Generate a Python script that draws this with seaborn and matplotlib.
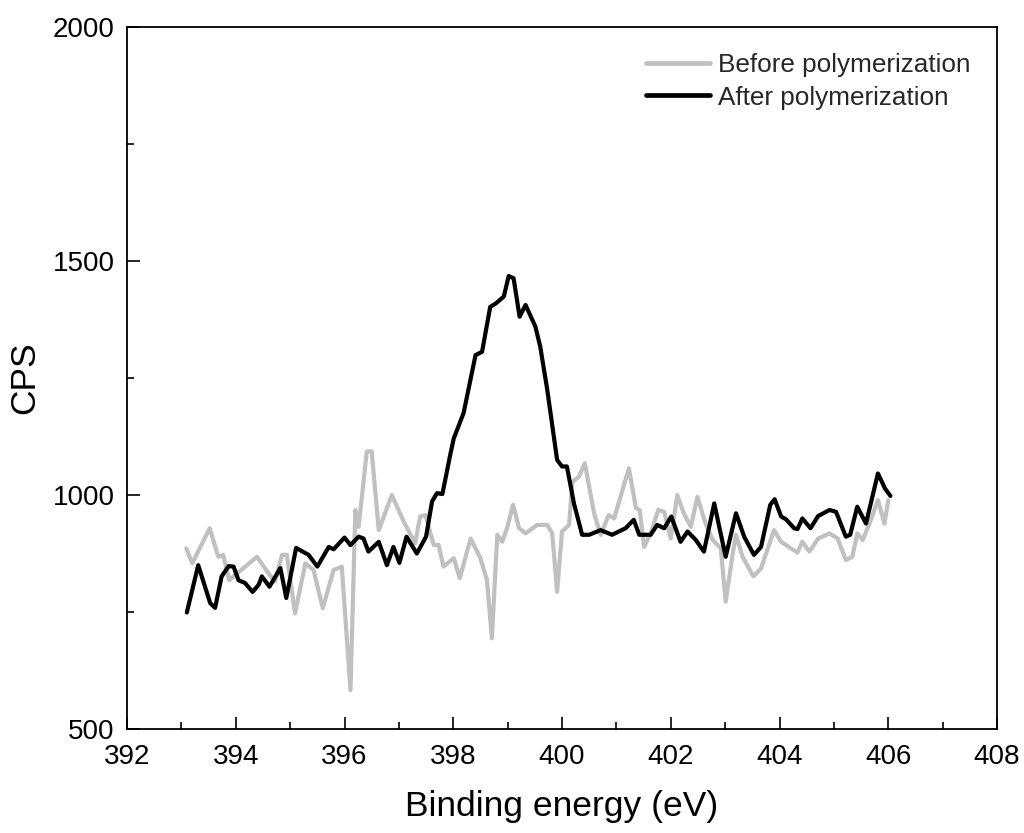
import numpy as np
import pandas as pd
import matplotlib
matplotlib.use("Agg")
import matplotlib.pyplot as plt
import seaborn as sns
from matplotlib.ticker import MultipleLocator

# ---- data ----
before_x = [393.09, 393.20, 393.52, 393.68, 393.77, 393.88, 394.00, 394.39, 394.60, 394.72,
            394.85, 394.94, 395.09, 395.28, 395.43, 395.60, 395.80, 395.95, 396.11, 396.20,
            396.26, 396.41, 396.50, 396.63, 396.87, 397.09, 397.30, 397.39, 397.49, 397.64,
            397.73, 397.82, 398.01, 398.12, 398.32, 398.50, 398.62, 398.71, 398.81, 398.90,
            398.99, 399.10, 399.21, 399.33, 399.54, 399.73, 399.82, 399.91, 400.00, 400.13,
            400.19, 400.31, 400.42, 400.59, 400.71, 400.86, 400.96, 401.23, 401.36, 401.43,
            401.51, 401.63, 401.77, 401.88, 402.00, 402.12, 402.24, 402.37, 402.49, 402.64,
            402.77, 402.92, 403.01, 403.14, 403.20, 403.32, 403.52, 403.66, 403.90, 404.03,
            404.21, 404.33, 404.42, 404.55, 404.71, 404.92, 405.07, 405.22, 405.34, 405.43,
            405.53, 405.68, 405.81, 405.93, 406.00]
before_y = [886, 854, 929, 868, 872, 818, 830, 868, 833, 815,
            872, 872, 747, 854, 840, 758, 840, 847, 583, 968,
            932, 1093, 1093, 925, 1000, 943, 897, 954, 957, 893,
            893, 847, 865, 822, 907, 865, 818, 694, 915, 900,
            929, 979, 929, 918, 936, 936, 918, 793, 922, 936,
            1028, 1039, 1068, 961, 915, 957, 950, 1057, 972, 968,
            889, 918, 968, 964, 907, 1000, 961, 932, 996, 939,
            904, 886, 772, 875, 915, 868, 826, 843, 925, 900,
            886, 877, 900, 879, 907, 918, 907, 861, 868, 918,
            904, 947, 989, 939, 989]

after_x = [393.10, 393.31, 393.53, 393.62, 393.74, 393.87, 393.96, 394.05, 394.17, 394.31,
           394.42, 394.48, 394.62, 394.82, 394.93, 395.11, 395.34, 395.50, 395.71, 395.80,
           396.00, 396.11, 396.26, 396.35, 396.44, 396.63, 396.78, 396.90, 397.01, 397.14,
           397.33, 397.50, 397.61, 397.70, 397.80, 397.95, 398.01, 398.19, 398.41, 398.53,
           398.68, 398.78, 398.93, 399.02, 399.11, 399.22, 399.33, 399.51, 399.60, 399.73,
           399.91, 400.00, 400.09, 400.22, 400.37, 400.50, 400.71, 400.92, 401.17, 401.32,
           401.42, 401.63, 401.75, 401.88, 402.01, 402.18, 402.31, 402.46, 402.61, 402.80,
           403.01, 403.20, 403.35, 403.53, 403.66, 403.83, 403.91, 404.03, 404.12, 404.27,
           404.33, 404.42, 404.57, 404.71, 404.92, 405.04, 405.22, 405.30, 405.43, 405.59,
           405.81, 405.94, 406.04]
after_y = [749, 850, 769, 759, 826, 848, 847, 818, 812, 793,
           808, 826, 804, 844, 780, 887, 872, 847, 889, 884,
           909, 893, 911, 907, 879, 900, 850, 889, 855, 911,
           875, 911, 986, 1004, 1002, 1089, 1121, 1175, 1299, 1306,
           1402, 1409, 1424, 1468, 1463, 1381, 1406, 1360, 1317, 1224,
           1075, 1061, 1061, 982, 915, 915, 925, 915, 929, 947,
           915, 915, 936, 929, 954, 900, 922, 904, 879, 982,
           868, 961, 911, 872, 889, 979, 991, 954, 948, 929,
           927, 950, 929, 955, 968, 964, 911, 915, 975, 939,
           1046, 1014, 998]

series_names = ["Before polymerization", "After polymerization"]
series_colors = ["#c0c0c0", "#000000"]

x_ticks = [392, 394, 396, 398, 400, 402, 404, 406, 408]
y_ticks = [500, 1000, 1500, 2000]

df = pd.concat([
    pd.DataFrame({"x": before_x, "y": before_y, "series": series_names[0]}),
    pd.DataFrame({"x": after_x, "y": after_y, "series": series_names[1]}),
], ignore_index=True)

sns.set_theme(style="ticks")
plt.rcParams["font.family"] = ["Liberation Sans", "DejaVu Sans"]

fig = plt.figure(figsize=(10.24, 8.33), dpi=100)
ax = fig.add_axes([127 / 1024, 1 - 729 / 833, (997 - 127) / 1024, (729 - 27) / 833])

sns.lineplot(data=df, x="x", y="y", hue="series", hue_order=series_names,
             palette=dict(zip(series_names, series_colors)),
             estimator=None, sort=False, linewidth=3.0, ax=ax)

ax.set_xlim(392, 408)
ax.set_ylim(500, 2000)
ax.set_xticks(x_ticks)
ax.set_yticks(y_ticks)
ax.xaxis.set_minor_locator(MultipleLocator(1))
ax.yaxis.set_minor_locator(MultipleLocator(250))
ax.tick_params(which="both", direction="in", top=False, right=False, color="black",
               width=1.2, labelsize=20, labelcolor="black")
ax.tick_params(which="major", length=9)
ax.tick_params(axis="y", which="major", pad=9)
ax.tick_params(axis="x", which="major", pad=11)
ax.tick_params(which="minor", length=5)
for s in ax.spines.values():
    s.set_visible(True)
    s.set_linewidth(1.3)
    s.set_color("black")

ax.set_xlabel("Binding energy (eV)", fontsize=25.5, labelpad=14, color="black")
ax.set_ylabel("CPS", fontsize=25.5, labelpad=8, color="black")

leg = ax.legend(loc="upper left", bbox_to_anchor=(0.597, 0.963), frameon=False,
                fontsize=18.8, handlelength=2.45, handletextpad=0.3, labelspacing=0.33,
                borderpad=0, borderaxespad=0)
for line in leg.get_lines():
    line.set_linewidth(3.4)

fig.savefig("out.png", dpi=100)
